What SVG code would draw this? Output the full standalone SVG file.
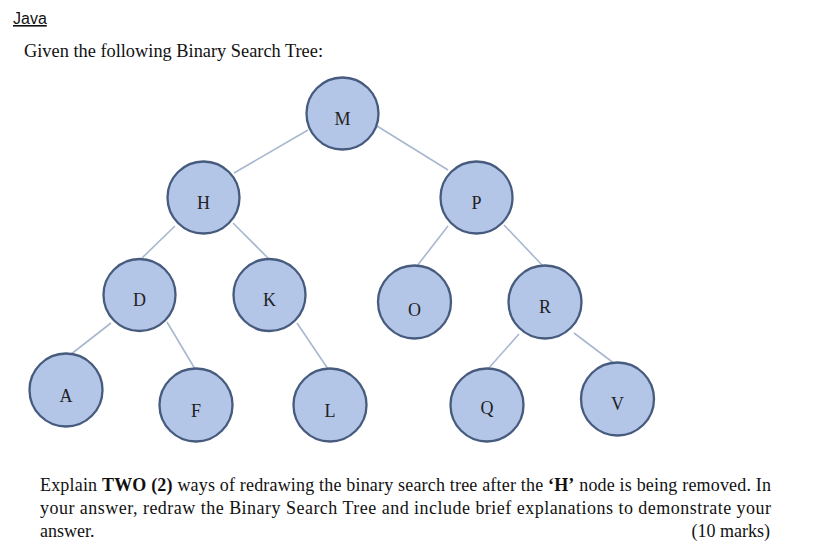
<svg xmlns="http://www.w3.org/2000/svg" width="823" height="552" viewBox="0 0 823 552">
<style>
.node circle{fill:#b4c6e7;stroke:#465b7d;stroke-width:2.3}
.node text{font-family:"Liberation Serif","Times New Roman",serif;font-size:18px;fill:#222;text-anchor:middle}
#edges line{stroke:#a7b8cf;stroke-width:1.6}
.body{font-family:"Liberation Serif","Times New Roman",serif;font-size:18px;fill:#111}
</style>
<rect width="823" height="552" fill="#fff"/>
<text x="13" y="24" font-family="'Liberation Sans',Arial,sans-serif" font-size="16" fill="#111" text-decoration="underline">Java</text>
<text class="body" x="24" y="57" textLength="299" lengthAdjust="spacingAndGlyphs">Given the following Binary Search Tree:</text>
<g id="edges">
<line x1="308" y1="130" x2="234" y2="173"/>
<line x1="377" y1="126" x2="448" y2="170"/>
<line x1="175" y1="226" x2="142" y2="258"/>
<line x1="233" y1="223" x2="268" y2="258"/>
<line x1="111" y1="323" x2="70" y2="355"/>
<line x1="167" y1="322" x2="195" y2="369"/>
<line x1="297" y1="323" x2="328" y2="369"/>
<line x1="448" y1="226" x2="417" y2="266"/>
<line x1="504" y1="225" x2="543" y2="266"/>
<line x1="519" y1="334" x2="488" y2="369"/>
<line x1="574" y1="333" x2="615" y2="364"/>
</g>
<g id="node-M" class="node"><circle cx="342.5" cy="113.5" r="36"/><text x="342.5" y="125">M</text></g>
<g id="node-H" class="node"><circle cx="203.5" cy="197.5" r="36"/><text x="203.5" y="209">H</text></g>
<g id="node-P" class="node"><circle cx="476.5" cy="197.5" r="36"/><text x="476.5" y="209">P</text></g>
<g id="node-D" class="node"><circle cx="139.5" cy="295" r="36"/><text x="139.5" y="306">D</text></g>
<g id="node-K" class="node"><circle cx="269.5" cy="295" r="36"/><text x="269.5" y="306">K</text></g>
<g id="node-O" class="node"><circle cx="414.5" cy="302" r="36.5"/><text x="414.5" y="316">O</text></g>
<g id="node-R" class="node"><circle cx="545" cy="302" r="36.5"/><text x="545" y="313">R</text></g>
<g id="node-A" class="node"><circle cx="66" cy="390" r="36.5"/><text x="66" y="402">A</text></g>
<g id="node-F" class="node"><circle cx="196" cy="405" r="36.5"/><text x="196" y="417">F</text></g>
<g id="node-L" class="node"><circle cx="330" cy="405" r="36.5"/><text x="330" y="417">L</text></g>
<g id="node-Q" class="node"><circle cx="487" cy="405" r="36.5"/><text x="487" y="414">Q</text></g>
<g id="node-V" class="node"><circle cx="617.5" cy="399" r="36.5"/><text x="617.5" y="410">V</text></g>
<text class="body" x="40" y="491" textLength="731" lengthAdjust="spacing">Explain <tspan font-weight="bold">TWO (2)</tspan> ways of redrawing the binary search tree after the <tspan font-weight="bold">‘H’</tspan> node is being removed. In</text>
<text class="body" x="40" y="514" textLength="731" lengthAdjust="spacing">your answer, redraw the Binary Search Tree and include brief explanations to demonstrate your</text>
<text class="body" x="40" y="537">answer.</text>
<text class="body" x="770" y="537" text-anchor="end">(10 marks)</text>
</svg>
